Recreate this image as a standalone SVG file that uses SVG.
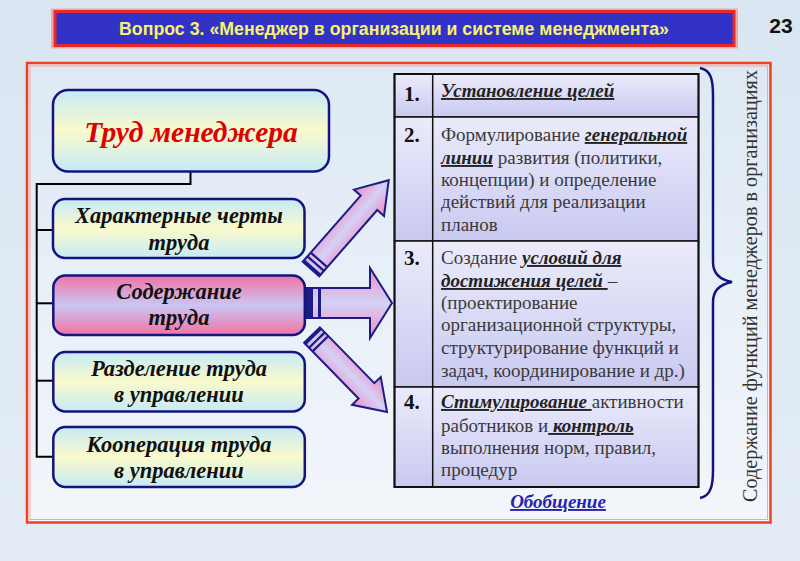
<svg xmlns="http://www.w3.org/2000/svg" width="800" height="561" viewBox="0 0 800 561">
<defs>
<linearGradient id="bg" x1="0" y1="0" x2="0" y2="1"><stop offset="0" stop-color="#d9e6f2"/><stop offset="1" stop-color="#e4edf6"/></linearGradient>
<linearGradient id="framebg" x1="0" y1="0" x2="0" y2="1"><stop offset="0" stop-color="#dde9f4"/><stop offset="1" stop-color="#f3f6fb"/></linearGradient>
<linearGradient id="boxg" x1="0" y1="0" x2="0" y2="1"><stop offset="0" stop-color="#c6eaf6"/><stop offset="0.5" stop-color="#fafacc"/><stop offset="1" stop-color="#c6eaf6"/></linearGradient>
<linearGradient id="pinkg" x1="0" y1="0" x2="0" y2="1"><stop offset="0" stop-color="#f272a4"/><stop offset="0.5" stop-color="#cac6f4"/><stop offset="1" stop-color="#f272a4"/></linearGradient>
<linearGradient id="rowg" x1="0" y1="0" x2="0" y2="1"><stop offset="0" stop-color="#ebebfb"/><stop offset="1" stop-color="#c9c9f1"/></linearGradient>
<linearGradient id="arrg" x1="0" y1="0" x2="0" y2="1"><stop offset="0" stop-color="#f08cc0"/><stop offset="0.5" stop-color="#d4d2f6"/><stop offset="1" stop-color="#f08cc0"/></linearGradient>
<style>
.serif{font-family:"Liberation Serif","Times New Roman","DejaVu Serif",serif}
.box{stroke:#14147e;stroke-width:2.5}
.bt{font-weight:bold;font-style:italic;font-size:22.5px;fill:#111;text-anchor:middle}
.conn{fill:none;stroke:#000;stroke-width:2}
.arr{fill:url(#arrg);stroke:#1c1c88;stroke-width:2;stroke-linejoin:miter}
.stripe{fill:#1c1c88}
.cell{fill:url(#rowg);stroke:#111;stroke-width:1.5}
.tt{font-size:19px;fill:#3a3a3a}
.num{font-size:21px;font-weight:bold;fill:#111}
.bi{font-weight:bold;font-style:italic;fill:#222;text-decoration:underline}
</style>
</defs>
<rect x="0" y="0" width="800" height="561" fill="url(#bg)"/>

<g id="title">
<rect x="51" y="8.5" width="687" height="40" fill="#f6a6a6"/>
<rect x="55" y="11.5" width="679" height="34" fill="#3232c8" stroke="#e42a2a" stroke-width="3"/>
<text x="394" y="35" font-family="'Liberation Sans',Arial,sans-serif" font-weight="bold" font-size="18" fill="#f6f26a" text-anchor="middle" textLength="550" lengthAdjust="spacingAndGlyphs">Вопрос 3. «Менеджер в организации и системе менеджмента»</text>
</g>
<text id="pagenum" x="781" y="33" font-family="'Liberation Sans',Arial,sans-serif" font-weight="bold" font-size="21" fill="#111" text-anchor="middle">23</text>

<g id="frame">
<rect x="27" y="63" width="743.5" height="459.5" fill="url(#framebg)" stroke="#f0401e" stroke-width="2.5"/>
<rect x="30" y="66" width="737.5" height="453.5" fill="none" stroke="#f6a4a4" stroke-width="1"/>
</g>

<g id="connectors">
<polyline class="conn" points="190.5,172 190.5,184 36.7,184 36.7,456.7 53,456.7"/>
<line class="conn" x1="36.7" y1="230" x2="53" y2="230"/>
<line class="conn" x1="36.7" y1="303.3" x2="53" y2="303.3"/>
<line class="conn" x1="36.7" y1="380.7" x2="53" y2="380.7"/>
</g>

<g id="n-trud">
<rect class="box" x="53" y="90" width="276" height="81.5" rx="15" fill="url(#boxg)"/>
<text class="serif" x="191" y="142" font-weight="bold" font-style="italic" font-size="29.5" fill="#e00000" text-anchor="middle">Труд менеджера</text>
</g>
<g id="n-cherty">
<rect class="box" x="53" y="199" width="251.5" height="59" rx="12" fill="url(#boxg)"/>
<text class="serif bt" x="179" y="223">Характерные черты</text>
<text class="serif bt" x="179" y="250">труда</text>
</g>
<g id="n-soderzh">
<rect class="box" x="53.3" y="275.5" width="251.5" height="59.5" rx="12" fill="url(#pinkg)"/>
<text class="serif bt" x="179" y="299">Содержание</text>
<text class="serif bt" x="179" y="325">труда</text>
</g>
<g id="n-razdel">
<rect class="box" x="53.3" y="352" width="251.5" height="59.5" rx="12" fill="url(#boxg)"/>
<text class="serif bt" x="179" y="376">Разделение труда</text>
<text class="serif bt" x="179" y="402">в управлении</text>
</g>
<g id="n-koop">
<rect class="box" x="53.3" y="427" width="251.5" height="60" rx="12" fill="url(#boxg)"/>
<text class="serif bt" x="179" y="452">Кооперация труда</text>
<text class="serif bt" x="179" y="478">в управлении</text>
</g>

<g id="arrows">
<g transform="translate(311,269) rotate(-48.8)">
<path class="arr" d="M0,-11 L88,-11 L88,-20 L118,0 L88,20 L88,11 L0,11 Z"/>
<rect class="stripe" x="0" y="-11" width="3" height="22"/>
<rect class="stripe" x="6" y="-11" width="2.2" height="22"/>
<rect class="stripe" x="11" y="-11" width="2.2" height="22"/>
</g>
<g transform="translate(307,303)">
<path class="arr" d="M0,-15 L63,-15 L63,-35 L85,0 L63,35 L63,15 L0,15 Z"/>
<rect class="stripe" x="0" y="-15" width="6" height="30"/>
<rect class="stripe" x="11" y="-15" width="3" height="30"/>
</g>
<g transform="translate(312,335) rotate(45.75)">
<path class="arr" d="M0,-11 L78,-11 L78,-20 L107.5,0 L78,20 L78,11 L0,11 Z"/>
<rect class="stripe" x="0" y="-11" width="3" height="22"/>
<rect class="stripe" x="6" y="-11" width="2.2" height="22"/>
<rect class="stripe" x="11" y="-11" width="2.2" height="22"/>
</g>
</g>

<g id="table" class="serif">
<rect class="cell" x="394.5" y="74" width="304" height="43"/>
<rect class="cell" x="394.5" y="117" width="304" height="124"/>
<rect class="cell" x="394.5" y="241" width="304" height="146"/>
<rect class="cell" x="394.5" y="387" width="304" height="100"/>
<line x1="432.7" y1="74" x2="432.7" y2="487" stroke="#111" stroke-width="1.5"/>
<rect x="394.5" y="74" width="304" height="413" fill="none" stroke="#111" stroke-width="2"/>

<text class="num" x="404" y="101">1.</text>
<text class="tt" x="441" y="97"><tspan class="bi">Установление целей</tspan></text>

<text class="num" x="404" y="142">2.</text>
<text class="tt" x="441" y="141">Формулирование <tspan class="bi">генеральной</tspan></text>
<text class="tt" x="441" y="164"><tspan class="bi">линии</tspan> развития (политики,</text>
<text class="tt" x="441" y="186">концепции) и определение</text>
<text class="tt" x="441" y="208">действий для реализации</text>
<text class="tt" x="441" y="231">планов</text>

<text class="num" x="404" y="265">3.</text>
<text class="tt" x="441" y="264">Создание <tspan class="bi">условий для</tspan></text>
<text class="tt" x="441" y="287"><tspan class="bi">достижения целей </tspan>–</text>
<text class="tt" x="441" y="309">(проектирование</text>
<text class="tt" x="441" y="331">организационной структуры,</text>
<text class="tt" x="441" y="354">структурирование функций и</text>
<text class="tt" x="441" y="377">задач, координирование и др.)</text>

<text class="num" x="404" y="409">4.</text>
<text class="tt" x="441" y="408"><tspan class="bi">Стимулирование </tspan>активности</text>
<text class="tt" x="441" y="432">работников  и<tspan class="bi"> контроль</tspan></text>
<text class="tt" x="441" y="454">выполнения норм, правил,</text>
<text class="tt" x="441" y="476">процедур</text>
</g>

<g id="summary">
<text class="serif" x="558" y="508" font-weight="bold" font-style="italic" font-size="19" fill="#2222b4" text-anchor="middle" text-decoration="underline">Обобщение</text>
</g>

<g id="brace">
<path d="M700,68 C711,70 713,80 713,95 L713,262 C713,275 721,280 732,282 C721,284 713,289 713,302 L713,470 C713,485 711,496 700,498" fill="none" stroke="#14147e" stroke-width="2.5"/>
<text class="serif" transform="translate(757,286) rotate(-90)" font-size="20" fill="#333" text-anchor="middle" textLength="432" lengthAdjust="spacingAndGlyphs">Содержание функций менеджеров в организациях</text>
</g>
</svg>
